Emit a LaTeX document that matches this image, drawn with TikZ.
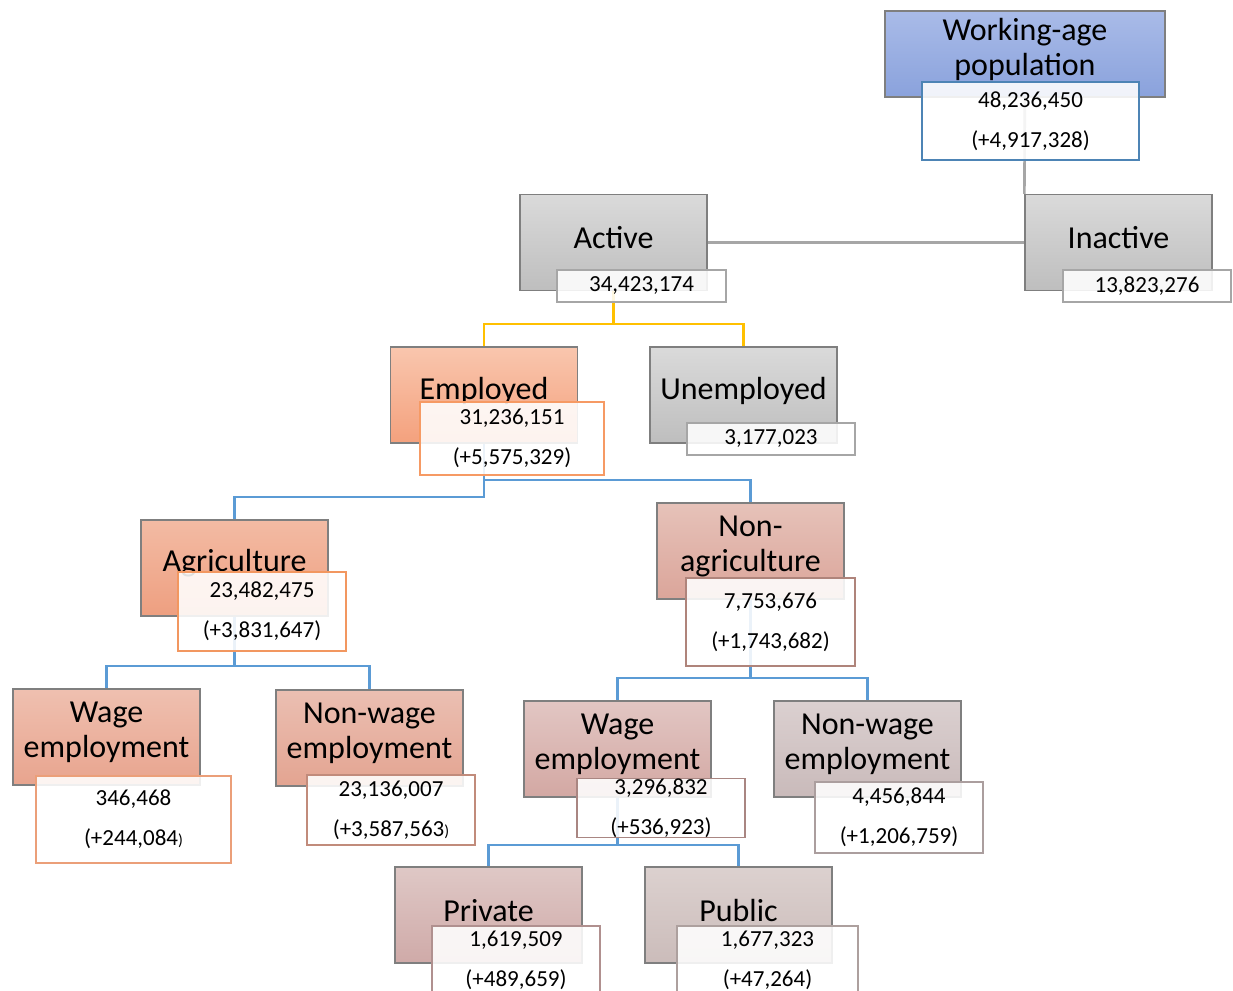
\documentclass[tikz,border=0pt]{standalone}
\usepackage{fontspec}
\setmainfont{Carlito}
\usetikzlibrary{positioning, backgrounds}

\definecolor{wapTop}{HTML}{A9BBE8}    \definecolor{wapBot}{HTML}{8AA2DC}
\definecolor{grayTop}{HTML}{DADADA}   \definecolor{grayBot}{HTML}{BEBEBE}
\definecolor{empTop}{HTML}{F9C6AE}    \definecolor{empBot}{HTML}{F4A17D}
\definecolor{agriTop}{HTML}{F3BBA4}   \definecolor{agriBot}{HTML}{EE9F80}
\definecolor{wageaTop}{HTML}{EFC0B0}  \definecolor{wageaBot}{HTML}{E8A48E}
\definecolor{nwageaTop}{HTML}{EBBFB2} \definecolor{nwageaBot}{HTML}{E3A491}
\definecolor{nagriTop}{HTML}{E6C2B9}  \definecolor{nagriBot}{HTML}{DBA59A}
\definecolor{wagenTop}{HTML}{E2C6C3}  \definecolor{wagenBot}{HTML}{D3A8A3}
\definecolor{nwagenTop}{HTML}{DBD0D0} \definecolor{nwagenBot}{HTML}{C9BABA}
\definecolor{privTop}{HTML}{DFC8C6}   \definecolor{privBot}{HTML}{CFAAA8}
\definecolor{pubTop}{HTML}{DCD1CF}    \definecolor{pubBot}{HTML}{CBBCBA}
\definecolor{boxEdge}{HTML}{7F7F7F}
\definecolor{lineGray}{HTML}{A6A6A6}
\definecolor{lineYellow}{HTML}{FFC000}
\definecolor{lineBlue}{HTML}{5B9BD5}

\tikzset{
  orgbox/.style 2 args={draw=boxEdge, line width=1.2pt, top color=#1, bottom color=#2,
    minimum width=187pt, minimum height=96pt, inner sep=0pt},
  boxtext/.style={font=\fontsize{32}{35}\selectfont, align=center, yshift=4.5pt},
  valbox/.style={draw=#1, line width=1.2pt, fill=white, fill opacity=0.88, text opacity=1,
    draw opacity=1, inner sep=0pt, align=center, font=\fontsize{23}{40}\selectfont},
  grayline/.style={draw=lineGray, line width=2.6pt},
  yelline/.style={draw=lineYellow, line width=2.4pt},
  blueline/.style={draw=lineBlue, line width=2.4pt}
}

\begin{document}
\begin{tikzpicture}[x=1pt, y=-1pt]
  \useasboundingbox (0,0) rectangle (1233,990);

  % main boxes
  \node[orgbox={wapTop}{wapBot}, minimum width=280pt, minimum height=86pt,
        label={[boxtext]center:Working-age\\population}] (wap)    at (1025,54)    {};
  \node[orgbox={grayTop}{grayBot}, label={[boxtext]center:Active}]      (act)    at (613.5,242.5) {};
  \node[orgbox={grayTop}{grayBot}, label={[boxtext]center:Inactive}]    (inact)  at (1118.5,242.5) {};
  \node[orgbox={empTop}{empBot}, label={[boxtext]center:Employed}]      (emp)    at (484,395)    {};
  \node[orgbox={grayTop}{grayBot}, label={[boxtext]center:Unemployed}]  (unemp)  at (743.5,395)  {};
  \node[orgbox={agriTop}{agriBot}, label={[boxtext]center:Agriculture}] (agri)   at (234.5,568)  {};
  \node[orgbox={nagriTop}{nagriBot}, label={[boxtext]center:Non-\\agriculture}] (nagri) at (750.5,551) {};
  \node[orgbox={wageaTop}{wageaBot}, label={[boxtext]center:Wage\\employment}]  (wagea)  at (106.5,737) {};
  \node[orgbox={nwageaTop}{nwageaBot}, label={[boxtext]center:Non-wage\\employment}] (nwagea) at (369.5,738) {};
  \node[orgbox={wagenTop}{wagenBot}, label={[boxtext]center:Wage\\employment}]  (wagen)  at (617.5,749) {};
  \node[orgbox={nwagenTop}{nwagenBot}, label={[boxtext]center:Non-wage\\employment}] (nwagen) at (867.5,749) {};
  \node[orgbox={privTop}{privBot}, label={[boxtext]center:Private}]     (priv)   at (488.5,915)  {};
  \node[orgbox={pubTop}{pubBot}, label={[boxtext]center:Public}]        (pub)    at (738.5,915)  {};

  % value boxes
  \node[valbox=lineBlue!85!black, minimum width=217pt, minimum height=78pt] (wapv) at (1030.5,121)
    {48,236,450\\(+4,917,328)};
  \node[valbox=lineGray, minimum width=169pt, minimum height=32pt]   (actv)    at (641.5,286) {34,423,174};
  \node[valbox=lineGray, minimum width=168pt, minimum height=32pt]   (inactv)  at (1147,286)  {13,823,276};
  \node[valbox=empBot!80!orange, minimum width=184pt, minimum height=73pt] (empv) at (512,438.5)
    {31,236,151\\(+5,575,329)};
  \node[valbox=lineGray, minimum width=168pt, minimum height=32pt]   (unempv)  at (771,439)   {3,177,023};
  \node[valbox=agriBot!75!orange, minimum width=168pt, minimum height=79pt] (agriv) at (262,611.5)
    {23,482,475\\(+3,831,647)};
  \node[valbox=nagriBot!80!black, minimum width=169pt, minimum height=88pt] (nagriv) at (770.5,622)
    {7,753,676\\(+1,743,682)};
  \node[valbox=wageaBot!85!orange, minimum width=195pt, minimum height=87pt] (wageav) at (133.5,819.5)
    {346,468\\(+244,084{\fontsize{16}{16}\selectfont)}};
  \node[valbox=nwageaBot!85!black, minimum width=168pt, minimum height=70pt] (nwageav) at (391,810)
    {23,136,007\\(+3,587,563{\fontsize{16}{16}\selectfont)}};
  \node[valbox=wagenBot!80!black, minimum width=168pt, minimum height=58pt] (wagenv) at (661,808)
    {3,296,832\\(+536,923)};
  \node[valbox=nwagenBot!85!black, minimum width=168pt, minimum height=71pt] (nwagenv) at (899,817.5)
    {4,456,844\\(+1,206,759)};
  \node[valbox=privBot!85!black, minimum width=168pt, minimum height=68pt] (privv) at (516,960)
    {1,619,509\\(+489,659)};
  \node[valbox=pubBot!85!black, minimum width=181pt, minimum height=68pt]  (pubv)  at (767.5,960)
    {1,677,323\\(+47,264)};

  % connectors
  \begin{scope}[on background layer]
    \draw[grayline] (wap.center) -- (inact.north west);
    \draw[grayline] (act.east) -- (inact.west);
    \draw[yelline] (act.center) -- ++(0,81.5) -| (emp.north);
    \draw[yelline] (act.center) -- ++(0,81.5) -| (unemp.north);
    \draw[blueline] (emp.center) -- ++(0,102) -| (agri.north);
    \draw[blueline] (emp.center) -- ++(0,85) -| (nagri.north);
    \draw[blueline] (agri.center) -- ++(0,98) -| (wagea.north);
    \draw[blueline] (agri.center) -- ++(0,98) -| (nwagea.north);
    \draw[blueline] (nagri.center) -- ++(0,127) -| (wagen.north);
    \draw[blueline] (nagri.center) -- ++(0,127) -| (nwagen.north);
    \draw[blueline] (wagen.center) -- ++(0,96) -| (priv.north);
    \draw[blueline] (wagen.center) -- ++(0,96) -| (pub.north);
  \end{scope}
\end{tikzpicture}
\end{document}
